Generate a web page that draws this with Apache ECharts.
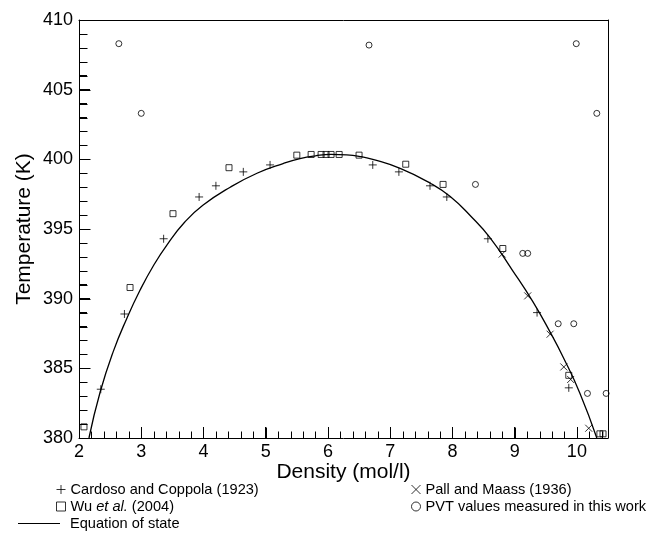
<!DOCTYPE html>
<html>
<head>
<meta charset="utf-8">
<style>
  html, body { margin: 0; padding: 0; background: #fff; }
  #main { width: 652px; height: 547px; }
</style>
<script src="https://cdn.jsdelivr.net/npm/echarts@6/dist/echarts.min.js"></script>
</head>
<body>
<div id="main"></div>
<script>
// values: density (mol/l) and temperature (K)
var cardosoX = [2.35, 2.73, 3.36, 3.93, 4.20, 4.64, 5.07, 6.72, 7.14, 7.64, 7.91, 8.57, 9.36, 9.87];
var cardosoT = [383.5, 388.9, 394.3, 397.3, 398.1, 399.1, 399.6, 399.6, 399.1, 398.1, 397.3, 394.3, 389.0, 383.6];

var wuX = [2.08, 2.82, 3.51, 4.41, 5.50, 5.73, 5.89, 5.97, 6.05, 6.18, 6.50, 7.25, 7.85, 8.81, 9.87, 10.37, 10.42];
var wuT = [380.8, 390.8, 396.1, 399.4, 400.3, 400.35, 400.35, 400.35, 400.35, 400.35, 400.3, 399.65, 398.2, 393.6, 384.5, 380.3, 380.3];

var pallX = [8.80, 9.21, 9.57, 9.79, 9.90, 10.19];
var pallT = [393.2, 390.2, 387.45, 385.1, 384.2, 380.7];

var pvtX = [2.64, 3.00, 6.66, 9.99, 10.32, 8.37, 9.13, 9.21, 9.70, 9.95, 10.17, 10.47];
var pvtT = [408.3, 403.3, 408.2, 408.3, 403.3, 398.2, 393.25, 393.25, 388.2, 388.2, 383.2, 383.2];

// equation of state curve
var eosX = [2.16, 2.34, 2.55, 2.77, 2.98, 3.20, 3.42, 3.70, 3.99, 4.43, 4.86, 5.28, 5.55, 5.80, 6.05, 6.30, 6.50, 6.72, 7.16, 7.64, 7.96, 8.30, 8.60, 8.97, 9.29, 9.57, 9.78, 10.05, 10.32];
var eosT = [380.0, 383.3, 386.2, 388.6, 390.6, 392.4, 393.9, 395.5, 396.7, 398.0, 399.0, 399.7, 400.05, 400.25, 400.35, 400.32, 400.22, 400.0, 399.35, 398.3, 397.35, 395.9, 394.4, 392.0, 389.8, 387.6, 385.8, 383.2, 380.0];

var xTicks = [2, 3, 4, 5, 6, 7, 8, 9, 10];
var yTicks = [380, 385, 390, 395, 400, 405, 410];
var xMinorTicks = [2.2, 2.4, 2.6, 2.8, 3.2, 3.4, 3.6, 3.8, 4.2, 4.4, 4.6, 4.8, 5.2, 5.4, 5.6, 5.8,
                   6.2, 6.4, 6.6, 6.8, 7.2, 7.4, 7.6, 7.8, 8.2, 8.4, 8.6, 8.8, 9.2, 9.4, 9.6, 9.8, 10.2, 10.4];
var yMinorTicks = [381, 382, 383, 384, 386, 387, 388, 389, 391, 392, 393, 394,
                   396, 397, 398, 399, 401, 402, 403, 404, 406, 407, 408, 409];

var names = ['Cardoso and Coppola (1923)', 'Wu et al. (2004)', 'Equation of state',
             'Pall and Maass (1936)', 'PVT values measured in this work'];

var font = "'Liberation Sans', Arial, Helvetica, sans-serif";
var plusPath = 'path://M5,0L5,10M0,5L10,5';
var crossPath = 'path://M0,0L10,10M10,0L0,10';
var hollow = { color: 'transparent', borderColor: '#000', borderWidth: 1 };
var xMin = 2, xMax = 10.5, yMin = 380, yMax = 410;

function pairs(xs, ys) {
  return xs.map(function (x, i) { return [x, ys[i]]; });
}

var legendSize = 14.6;
var legendText = {
  fontFamily: font, fontSize: legendSize, color: '#000',
  rich: {
    n: { fontFamily: font, fontSize: legendSize, color: '#000' },
    i: { fontFamily: font, fontSize: legendSize, color: '#000', fontStyle: 'italic' }
  }
};
function legendFormat(name) {
  if (name === names[1]) return '{n|Wu }{i|et al.}{n| (2004)}';
  return name;
}

function line(show) {
  return { show: show, lineStyle: { color: '#000', width: 1 } };
}

var option = {
  backgroundColor: '#fff',
  animation: false,
  grid: { left: 79, right: 44, top: 20, bottom: 109 },
  legend: [{
    selectedMode: false, orient: 'vertical', left: 51, top: 477,
    itemWidth: 9, itemHeight: 9, itemGap: 2,
    textStyle: legendText, formatter: legendFormat,
    data: [
      { name: names[0], icon: plusPath, itemStyle: hollow },
      { name: names[1], icon: 'rect', itemStyle: hollow }
    ]
  }, {
    selectedMode: false, orient: 'vertical', left: 13, top: 511,
    itemWidth: 42, itemHeight: 1,
    textStyle: { fontFamily: font, fontSize: legendSize, color: '#000', padding: [0, 0, 0, 5] },
    data: [{ name: names[2], icon: 'rect', itemStyle: { color: '#000', borderWidth: 0 } }]
  }, {
    selectedMode: false, orient: 'vertical', left: 406, top: 477,
    itemWidth: 9, itemHeight: 9, itemGap: 2,
    textStyle: legendText,
    data: [
      { name: names[3], icon: crossPath, itemStyle: hollow },
      { name: names[4], icon: 'circle', itemStyle: hollow }
    ]
  }],
  xAxis: [{
    type: 'value', min: xMin, max: xMax, interval: 1, position: 'bottom',
    name: 'Density (mol/l)', nameLocation: 'middle', nameGap: 24, nameMoveOverlap: false,
    nameTextStyle: { fontFamily: font, fontSize: 21, color: '#000' },
    axisLine: line(true),
    axisTick: { show: true, inside: true, length: 11, lineStyle: { color: '#000', width: 1 } },
    axisLabel: {
      margin: 5, fontFamily: font, fontSize: 18, color: '#000',
      formatter: function (v) { return xTicks.indexOf(v) >= 0 ? String(v) : ''; }
    },
    splitLine: { show: false }
  }, {
    type: 'value', min: xMin, max: xMax, position: 'top',
    axisLine: line(true), axisTick: { show: false }, axisLabel: { show: false }, splitLine: { show: false }
  }],
  yAxis: [{
    type: 'value', min: yMin, max: yMax, interval: 5, position: 'left',
    name: 'Temperature (K)', nameLocation: 'middle', nameGap: 44, nameMoveOverlap: false,
    nameTextStyle: { fontFamily: font, fontSize: 21, color: '#000' },
    axisLine: line(true),
    axisTick: { show: true, inside: true, length: 11, lineStyle: { color: '#000', width: 1 } },
    minorTick: { show: true, splitNumber: 5, length: 8, lineStyle: { color: '#000', width: 1 } },
    axisLabel: {
      margin: 6, fontFamily: font, fontSize: 18, color: '#000',
      formatter: function (v) { return yTicks.indexOf(v) >= 0 ? String(v) : ''; }
    },
    splitLine: { show: false }
  }, {
    type: 'value', min: yMin, max: yMax, position: 'right',
    axisLine: line(true), axisTick: { show: false }, axisLabel: { show: false }, splitLine: { show: false }
  }],
  series: [{
    name: names[2], type: 'line', data: pairs(eosX, eosT),
    smooth: true, showSymbol: false, symbol: 'none', clip: true,
    lineStyle: { color: '#000', width: 1.3 }, itemStyle: { color: '#000' }, z: 1
  }, {
    name: names[0], type: 'scatter', data: pairs(cardosoX, cardosoT),
    symbol: plusPath, symbolSize: 8, itemStyle: hollow, z: 3
  }, {
    name: names[1], type: 'scatter', data: pairs(wuX, wuT),
    symbol: 'rect', symbolSize: 6, itemStyle: hollow, z: 3
  }, {
    name: names[3], type: 'scatter', data: pairs(pallX, pallT),
    symbol: crossPath, symbolSize: 7, itemStyle: hollow, z: 3
  }, {
    name: names[4], type: 'scatter', data: pairs(pvtX, pvtT),
    symbol: 'circle', symbolSize: 6, itemStyle: hollow, z: 3
  }]
};

var myChart = echarts.init(document.getElementById('main'));
myChart.setOption(option);

// inward tick marks as graphic lines, placed through the chart's own scales
function tickLines(values, vertical, len) {
  return values.map(function (v) {
    var p = myChart.convertToPixel({ xAxisIndex: 0, yAxisIndex: 0 }, vertical ? [v, yMin] : [xMin, v]);
    var x = Math.round(p[0]) + 0.5, y = Math.round(p[1]) + 0.5;
    return {
      type: 'line', z: 100, silent: true,
      shape: vertical ? { x1: x, y1: y, x2: x, y2: y - len } : { x1: x, y1: y, x2: x + len, y2: y },
      style: { stroke: '#000', lineWidth: 1 }
    };
  });
}
myChart.setOption({
  graphic: [].concat(
    tickLines(xTicks, true, 11), tickLines(xMinorTicks, true, 7),
    tickLines(yTicks, false, 11), tickLines(yMinorTicks, false, 8)
  )
});
try { myChart.getZr().refreshImmediately(); } catch (e) {}
</script>
</body>
</html>
